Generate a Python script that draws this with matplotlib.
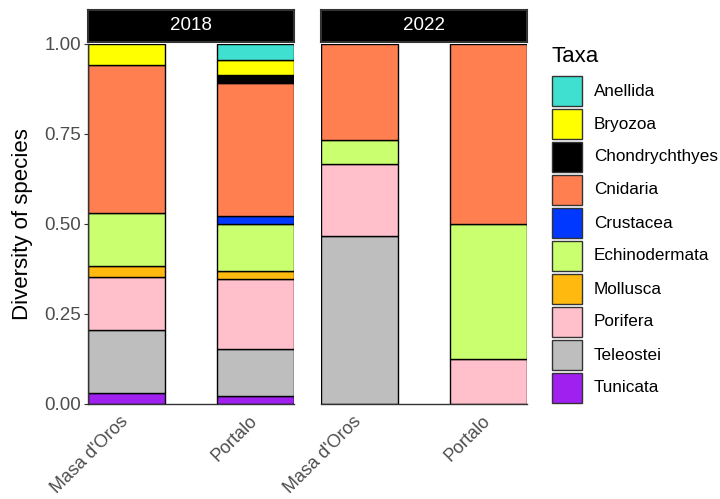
import numpy as np
import matplotlib
matplotlib.use("Agg")
from matplotlib import pyplot as plt
from matplotlib.transforms import ScaledTranslation

plt.rcParams['font.family'] = ['Liberation Sans', 'DejaVu Sans']

years = ["2018", "2022"]
sites = ["Masa d'Oros", "Portalo"]
# stacking order, bottom to top
taxa = ["Tunicata", "Teleostei", "Porifera", "Mollusca", "Echinodermata",
        "Crustacea", "Cnidaria", "Chondrychthyes", "Bryozoa", "Anellida"]
colors = ["#A020F0", "#BEBEBE", "#FFC0CB", "#FFB90F", "#CAFF70",
          "#0038FF", "#FF7F50", "#000000", "#FFFF00", "#40E0D0"]

# species counts per taxon (same order as taxa)
counts_2018_masa = [1, 6, 5, 1, 5, 0, 14, 0, 2, 0]
counts_2018_portalo = [1, 6, 9, 1, 6, 1, 17, 1, 2, 2]
counts_2022_masa = [0, 7, 3, 0, 1, 0, 4, 0, 0, 0]
counts_2022_portalo = [0, 0, 1, 0, 3, 0, 4, 0, 0, 0]

data = {"2018": [counts_2018_masa, counts_2018_portalo],
        "2022": [counts_2022_masa, counts_2022_portalo]}

W, H = 720, 499
fig = plt.figure(figsize=(W / 100, H / 100), dpi=100)

panels = [(88, "2018"), (321, "2022")]
top, bottom, pw = 44, 404, 206
bar_w = 0.6

for i, (x0, yr) in enumerate(panels):
    ax = fig.add_axes([x0 / W, (H - bottom) / H, pw / W, (bottom - top) / H])
    for j, c in enumerate(data[yr]):
        frac = np.array(c, dtype=float) / sum(c)
        base = 0.0
        for k, f in enumerate(frac):
            if f > 0:
                ax.bar(j, f, bottom=base, width=bar_w, color=colors[k],
                       edgecolor="black", linewidth=1.0, zorder=2)
            base += f
    ax.set_xlim(-bar_w / 2, 1 + bar_w / 2)
    ax.set_ylim(0, 1)
    ax.set_xticks([0, 1])
    ax.tick_params(axis="x", length=0, pad=15)
    ax.set_xticklabels(sites, rotation=45, ha="right", va="bottom",
                       rotation_mode="anchor", fontsize=13, color="#4D4D4D")
    for lab in ax.get_xticklabels():
        lab.set_transform(lab.get_transform() +
                          ScaledTranslation(0.05, 0, fig.dpi_scale_trans))
    for s in ["top", "right"]:
        ax.spines[s].set_visible(False)
    ax.spines["bottom"].set_color("#333333")
    ax.spines["bottom"].set_linewidth(1.0)
    if i == 0:
        ax.set_yticks([0, 0.25, 0.5, 0.75, 1.0])
        ax.set_yticklabels(["0.00", "0.25", "0.50", "0.75", "1.00"],
                           fontsize=13.5, color="#4D4D4D")
        ax.tick_params(axis="y", length=3, color="#333333", pad=2)
        ax.spines["left"].set_color("#333333")
        ax.spines["left"].set_linewidth(1.0)
        ax.set_ylabel("Diversity of species", fontsize=16, color="black",
                      labelpad=8)
    else:
        ax.set_yticks([])
        ax.spines["left"].set_visible(False)
    # facet strip
    sax = fig.add_axes([x0 / W, (H - 42) / H, pw / W, 32 / H])
    sax.set_facecolor("black")
    sax.set_xticks([])
    sax.set_yticks([])
    for s in sax.spines.values():
        s.set_color("#333333")
        s.set_linewidth(1.5)
    sax.text(0.5, 0.5, yr, color="white", fontsize=13.5, ha="center",
             va="center", transform=sax.transAxes)

# legend
fig.text(552 / W, (H - 57) / H, "Taxa", fontsize=16, va="center")
for n, k in enumerate(reversed(range(len(taxa)))):
    yc = 91 + n * 33
    r = plt.Rectangle((552 / W, (H - yc - 15) / H), 30 / W, 30 / H,
                      transform=fig.transFigure, facecolor=colors[k],
                      edgecolor="#333333", linewidth=1.0)
    fig.add_artist(r)
    fig.text(594 / W, (H - yc) / H, taxa[k], fontsize=12.3, va="center")

fig.savefig("out.png", dpi=100)
